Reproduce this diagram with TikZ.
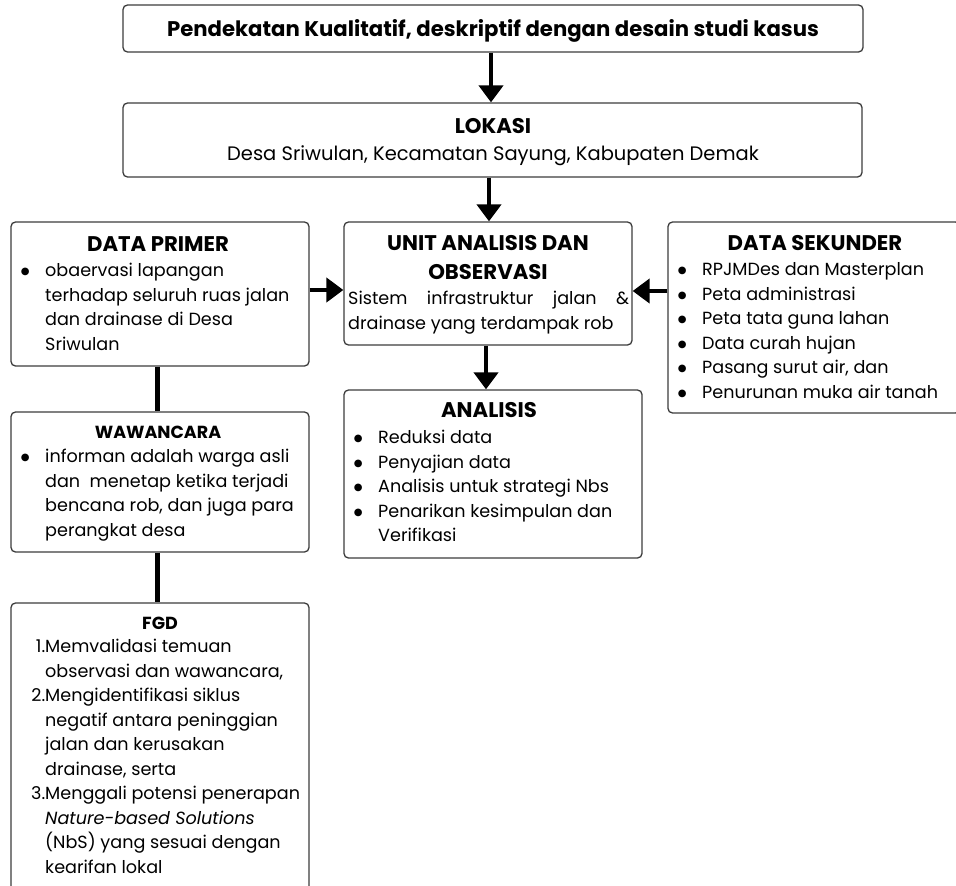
\documentclass[tikz,border=0pt]{standalone}
\usepackage{fontspec}
\setmainfont{Poppins}
\newfontfamily\dejavu{DejaVu Sans}
\usetikzlibrary{arrows.meta}
\definecolor{boxline}{HTML}{3C3C3C}
\newcommand\bodyfont{\fontsize{17.6}{24.5}\selectfont}
\newcommand\lokfont{\fontsize{19.5}{24.5}\selectfont}
\newcommand\bigtitle{\fontsize{21.2}{29}\selectfont\bfseries}
\newcommand\smalltitle{\fontsize{17.5}{24}\selectfont\bfseries}
\newcommand\mybul{\makebox[40pt][c]{\raisebox{1.6pt}{\dejavu\fontsize{10}{10}\selectfont ●}}}
\newcommand\myind{\hspace*{40pt}}
\newcommand\mynum[1]{\makebox[31pt][r]{#1}}
\newcommand\mynumind{\hspace*{31pt}}
\newcommand\blk[1]{\parbox[t]{400pt}{\bodyfont\raggedright #1}}
\tikzset{
  box/.style={draw=boxline, line width=1.3pt, rounded corners=4.5pt, fill=white, inner sep=0pt},
  arr/.style={line width=4.5pt, -{Triangle[length=17pt,width=24pt]}},
  link/.style={line width=5pt},
  txt/.style={inner sep=0pt, anchor=base},
  blocktxt/.style={inner sep=0pt, anchor=base west},
}
\begin{document}
\begin{tikzpicture}[x=1pt,y=-1pt]
\useasboundingbox (0,0) rectangle (956,886);
\clip (0,0) rectangle (956,886);
\fill[white] (0,0) rectangle (956,886);
% boxes
\node[box, minimum width=740pt, minimum height=47pt] (top) at (493,28.5) {};
\node[box, minimum width=739pt, minimum height=74pt] (lok) at (492.5,140) {};
\node[box, minimum width=288pt, minimum height=123pt] (unit) at (488,283.5) {};
\node[box, minimum width=298pt, minimum height=144pt] (prim) at (160,294) {};
\node[box, minimum width=292pt, minimum height=191pt] (sek) at (814,317.5) {};
\node[box, minimum width=298pt, minimum height=168pt] (ana) at (493,474) {};
\node[box, minimum width=298pt, minimum height=140pt] (waw) at (160,482) {};
\node[box, minimum width=298pt, minimum height=292pt] (fgd) at (160,749) {};
% connectors
\draw[arr] (top.south -| 491,0) -- (lok.north -| 491,0);
\draw[arr] (lok.south -| 489,0) -- (unit.north -| 489,0);
\draw[arr] (unit.south -| 486,0) -- (ana.north -| 486,0);
\draw[arr] (prim.east |- 0,290) -- (unit.west |- 0,290);
\draw[arr] (sek.west |- 0,291) -- (unit.east |- 0,291);
\draw[link] (prim.south -| 157,0) -- (waw.north -| 157,0);
\draw[link] (waw.south -| 157,0) -- (fgd.north -| 157,0);
% texts
\node[txt, font=\bigtitle] (toptxt) at (493,36) {Pendekatan Kualitatif, deskriptif dengan desain studi kasus};
\node[txt, font=\bigtitle] (loktitle) at (493,133.4) {LOKASI};
\node[txt, font=\lokfont] (loktxt) at (493,160) {Desa Sriwulan, Kecamatan Sayung, Kabupaten Demak};
\node[txt, font=\bigtitle] (unittitle1) at (488,250.4) {UNIT ANALISIS DAN};
\node[txt, font=\bigtitle] (unittitle2) at (488,279.4) {OBSERVASI};
\node[blocktxt] (unittxt) at (348,304.5) {\blk{\makebox[281pt][s]{Sistem infrastruktur jalan \&}\\drainase yang terdampak rob}};
\node[txt, font=\bigtitle] (primtitle) at (158,251.4) {DATA PRIMER};
\node[blocktxt] (primtxt) at (5,276.5) {\blk{\mybul obaervasi lapangan\\\myind terhadap seluruh ruas jalan\\\myind dan drainase di Desa\\\myind Sriwulan}};
\node[txt, font=\bigtitle] (sektitle) at (815,250.4) {DATA SEKUNDER};
\node[blocktxt] (sektxt) at (662,275.5) {\blk{\mybul RPJMDes dan Masterplan\\\mybul Peta administrasi\\\mybul Peta tata guna lahan\\\mybul Data curah hujan\\\mybul Pasang surut air, dan\\\mybul Penurunan muka air tanah}};
\node[txt, font=\bigtitle] (anatitle) at (489,417.4) {ANALISIS};
\node[blocktxt] (anatxt) at (338,443.5) {\blk{\mybul Reduksi data\\\mybul Penyajian data\\\mybul Analisis untuk strategi Nbs\\\mybul Penarikan kesimpulan dan\\\myind Verifikasi}};
\node[txt, font=\smalltitle] (wawtitle) at (158,438) {WAWANCARA};
\node[blocktxt] (wawtxt) at (5,462.5) {\blk{\mybul informan adalah warga asli\\\myind dan\ \ menetap ketika terjadi\\\myind bencana rob, dan juga para\\\myind perangkat desa}};
\node[txt, font=\smalltitle] (fgdtitle) at (160,629) {FGD};
\node[blocktxt] (fgdtxt) at (14,652.5) {\blk{\mynum{1.}Memvalidasi temuan\\\mynumind observasi dan wawancara,\\\mynum{2.}Mengidentifikasi siklus\\\mynumind negatif antara peninggian\\\mynumind jalan dan kerusakan\\\mynumind drainase, serta\\\mynum{3.}Menggali potensi penerapan\\\mynumind \textit{Nature-based Solutions}\\\mynumind (NbS) yang sesuai dengan\\\mynumind kearifan lokal}};
\end{tikzpicture}
\end{document}
